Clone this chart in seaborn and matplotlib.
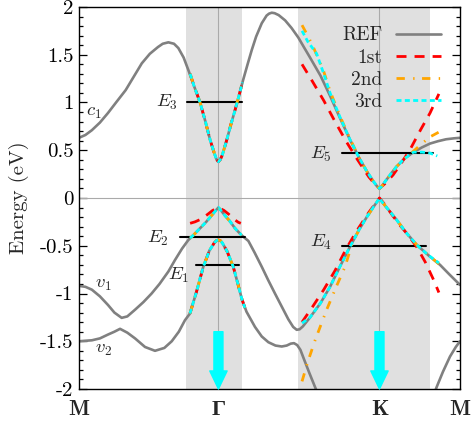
import numpy as np
import pandas as pd
import matplotlib
matplotlib.use('Agg')
import matplotlib.pyplot as plt
from matplotlib.ticker import MultipleLocator, FuncFormatter
import seaborn as sns

# k-path positions (M - Gamma - K - M)
k_ticks = [0.0, 0.866, 1.866, 2.366]
k_labels = ['M', 'Γ', 'K', 'M']

# reference bands
kx_c1 = [0.00, 0.04, 0.08, 0.13, 0.18, 0.23, 0.29, 0.34, 0.39, 0.44, 0.49, 0.52, 0.555, 0.59, 0.617, 0.65,
         0.679, 0.715, 0.752, 0.785, 0.814, 0.84, 0.855, 0.866, 0.877, 0.89, 0.918, 0.945, 0.969, 0.995, 1.02,
         1.047, 1.073, 1.10, 1.135, 1.165, 1.18, 1.197, 1.215, 1.24, 1.28, 1.32, 1.362, 1.40, 1.435, 1.50,
         1.559, 1.62, 1.683, 1.74, 1.787, 1.83, 1.852, 1.866, 1.88, 1.90, 1.94, 1.973, 2.02, 2.077, 2.13,
         2.18, 2.23, 2.28, 2.33, 2.366]
e_c1 = [0.63, 0.66, 0.71, 0.79, 0.89, 1.00, 1.13, 1.27, 1.41, 1.51, 1.58, 1.615, 1.63, 1.615, 1.57, 1.47,
        1.34, 1.17, 1.00, 0.80, 0.61, 0.47, 0.40, 0.38, 0.40, 0.45, 0.61, 0.78, 0.92, 1.08, 1.24,
        1.40, 1.55, 1.69, 1.83, 1.91, 1.93, 1.94, 1.935, 1.915, 1.86, 1.78, 1.68, 1.57, 1.47, 1.28,
        1.07, 0.84, 0.61, 0.42, 0.28, 0.17, 0.12, 0.10, 0.12, 0.17, 0.26, 0.33, 0.41, 0.48, 0.53,
        0.57, 0.595, 0.615, 0.625, 0.63]

kx_v1 = [0.00, 0.04, 0.08, 0.13, 0.18, 0.22, 0.265, 0.30, 0.348, 0.40, 0.451, 0.50, 0.555, 0.596, 0.64,
         0.679, 0.71, 0.75, 0.79, 0.83, 0.855, 0.866, 0.877, 0.90, 0.94, 0.97, 1.01, 1.052, 1.09, 1.135,
         1.175, 1.217, 1.26, 1.30, 1.33, 1.352, 1.37, 1.39, 1.435, 1.50, 1.559, 1.62, 1.683, 1.74, 1.787,
         1.83, 1.855, 1.866, 1.877, 1.92, 1.973, 2.03, 2.097, 2.17, 2.242, 2.30, 2.366]
e_v1 = [-0.92, -0.93, -0.96, -1.03, -1.12, -1.20, -1.255, -1.24, -1.17, -1.09, -1.00, -0.90, -0.77, -0.65, -0.53,
        -0.44, -0.39, -0.32, -0.25, -0.17, -0.12, -0.10, -0.12, -0.17, -0.25, -0.32, -0.39, -0.45, -0.57, -0.72,
        -0.86, -1.00, -1.14, -1.27, -1.35, -1.38, -1.375, -1.345, -1.25, -1.10, -0.93, -0.72, -0.51, -0.33, -0.20,
        -0.09, -0.03, 0.00, -0.03, -0.12, -0.23, -0.36, -0.49, -0.60, -0.70, -0.80, -0.91]

kx_v2 = [0.00, 0.08, 0.13, 0.18, 0.22, 0.255, 0.30, 0.348, 0.41, 0.472, 0.53, 0.576, 0.62, 0.658, 0.689,
         0.73, 0.772, 0.81, 0.84, 0.855, 0.866, 0.877, 0.89, 0.92, 0.958, 0.99, 1.01, 1.04, 1.093, 1.135,
         1.176, 1.22, 1.259, 1.29, 1.315, 1.335, 1.355, 1.375, 1.40, 1.43, 1.466, 1.50]
e_v2 = [-1.50, -1.49, -1.47, -1.43, -1.40, -1.37, -1.41, -1.47, -1.56, -1.60, -1.57, -1.50, -1.40, -1.28, -1.21,
        -0.98, -0.72, -0.55, -0.47, -0.445, -0.44, -0.445, -0.47, -0.56, -0.72, -0.92, -1.05, -1.19, -1.35, -1.45,
        -1.51, -1.545, -1.555, -1.545, -1.525, -1.52, -1.54, -1.59, -1.70, -1.83, -1.98, -2.12]

kx_v2_right = [2.19, 2.221, 2.26, 2.304, 2.34, 2.366]
e_v2_right = [-2.12, -1.98, -1.82, -1.66, -1.56, -1.50]

# expansions around Gamma (all three orders sit on the reference)
gam_c_x = [0.69, 0.715, 0.752, 0.785, 0.814, 0.84, 0.855, 0.866, 0.877, 0.89, 0.918, 0.945, 0.969, 0.995, 1.015]
gam_c_e = [1.30, 1.17, 1.00, 0.80, 0.61, 0.47, 0.40, 0.38, 0.40, 0.45, 0.61, 0.78, 0.92, 1.08, 1.21]
gam_v1_x = [0.69, 0.71, 0.75, 0.79, 0.83, 0.855, 0.866, 0.877, 0.90, 0.94, 0.97, 1.01]
gam_v1_e = [-0.42, -0.39, -0.32, -0.25, -0.17, -0.12, -0.10, -0.12, -0.17, -0.25, -0.32, -0.39]
gam_v1_1st_x = [0.69, 0.72, 0.76, 0.80, 0.83, 0.866, 0.90, 0.93, 0.96, 0.99, 1.005]
gam_v1_1st_e = [-0.265, -0.25, -0.22, -0.17, -0.13, -0.10, -0.13, -0.17, -0.22, -0.255, -0.265]
gam_v2_x = [0.689, 0.73, 0.772, 0.81, 0.84, 0.855, 0.866, 0.877, 0.89, 0.92, 0.958, 0.99, 1.01, 1.03]
gam_v2_e = [-1.21, -0.98, -0.72, -0.55, -0.47, -0.445, -0.44, -0.445, -0.47, -0.56, -0.72, -0.92, -1.05, -1.15]

# expansions around K
k_c_1st_x = [1.385, 1.45, 1.52, 1.59, 1.66, 1.73, 1.80, 1.84, 1.866, 1.90, 1.95, 2.00, 2.06, 2.12, 2.18, 2.235]
k_c_1st_e = [1.40, 1.22, 1.02, 0.80, 0.59, 0.40, 0.22, 0.14, 0.10, 0.15, 0.24, 0.36, 0.52, 0.71, 0.89, 1.09]
k_c_2nd_x = [1.385, 1.42, 1.455, 1.517, 1.559, 1.62, 1.683, 1.74, 1.787, 1.83, 1.852, 1.866, 1.88, 1.90, 1.94,
             1.973, 2.02, 2.077, 2.13, 2.18, 2.235]
k_c_2nd_e = [1.81, 1.70, 1.58, 1.34, 1.12, 0.86, 0.62, 0.42, 0.28, 0.17, 0.12, 0.10, 0.12, 0.17, 0.26,
             0.33, 0.41, 0.49, 0.57, 0.64, 0.69]
k_c_3rd_x = [1.385, 1.42, 1.476, 1.52, 1.559, 1.62, 1.683, 1.74, 1.787, 1.83, 1.852, 1.866, 1.88, 1.90, 1.94,
             1.973, 2.02, 2.077, 2.13, 2.18, 2.225]
k_c_3rd_e = [1.75, 1.64, 1.51, 1.30, 1.10, 0.85, 0.61, 0.42, 0.28, 0.17, 0.12, 0.10, 0.12, 0.17, 0.26,
             0.33, 0.41, 0.48, 0.48, 0.47, 0.44]

k_v_1st_x = [1.385, 1.45, 1.52, 1.59, 1.66, 1.73, 1.80, 1.866, 1.90, 1.95, 2.00, 2.05, 2.10, 2.15, 2.20, 2.235]
k_v_1st_e = [-1.30, -1.14, -0.96, -0.76, -0.53, -0.33, -0.15, 0.00, -0.07, -0.19, -0.30, -0.40, -0.52, -0.67, -0.85, -0.99]
k_v_2nd_x = [1.385, 1.42, 1.466, 1.538, 1.60, 1.652, 1.70, 1.74, 1.787, 1.83, 1.855, 1.866, 1.877, 1.92, 1.973,
             2.03, 2.097, 2.17, 2.235]
k_v_2nd_e = [-1.92, -1.72, -1.49, -1.17, -0.92, -0.72, -0.46, -0.33, -0.20, -0.09, -0.03, 0.00, -0.03, -0.12, -0.23,
             -0.36, -0.49, -0.60, -0.69]
k_v_3rd_x = [1.385, 1.435, 1.50, 1.559, 1.62, 1.683, 1.74, 1.787, 1.83, 1.855, 1.866, 1.877, 1.92, 1.973, 2.03,
             2.097, 2.17, 2.235]
k_v_3rd_e = [-1.31, -1.25, -1.10, -0.93, -0.72, -0.51, -0.33, -0.20, -0.09, -0.03, 0.00, -0.03, -0.12, -0.23, -0.36,
             -0.49, -0.60, -0.68]

# discrete levels
lvl_names = ['$E_1$', '$E_2$', '$E_3$', '$E_4$', '$E_5$']
lvl_e = [-0.70, -0.41, 1.00, -0.50, 0.47]
lvl_x0 = [0.727, 0.627, 0.669, 1.632, 1.632]
lvl_x1 = [0.996, 1.03, 1.010, 2.155, 2.200]
lvl_text_x = [0.683, 0.560, 0.615, 1.571, 1.571]
lvl_text_e = [-0.81, -0.42, 1.00, -0.47, 0.46]

sns.set_style('ticks')
plt.rcParams['font.family'] = ['cmr10', 'DejaVu Serif']
plt.rcParams['mathtext.fontset'] = 'cm'
plt.rcParams['axes.unicode_minus'] = False
plt.rcParams['axes.formatter.use_mathtext'] = False

fig = plt.figure(figsize=(4.73, 4.21), dpi=100)
ax = fig.add_axes([0.167, 0.076, 0.8055, 0.9074])

ax.axvspan(0.665, 1.012, color='#e0e0e0', lw=0, zorder=0)
ax.axvspan(1.36, 2.18, color='#e0e0e0', lw=0, zorder=0)
for kt in k_ticks[1:3]:
    ax.axvline(kt, color='#aaaaaa', lw=0.8, zorder=1)
ax.axhline(0, color='#aaaaaa', lw=0.8, zorder=1)

ref_kw = dict(color='#808080', lw=1.9, sort=False, estimator=None, ax=ax, zorder=2)
sns.lineplot(x=kx_c1, y=e_c1, label='REF', **ref_kw)
sns.lineplot(x=kx_v1, y=e_v1, **ref_kw)
sns.lineplot(x=kx_v2, y=e_v2, **ref_kw)
sns.lineplot(x=kx_v2_right, y=e_v2_right, **ref_kw)

# level lines
for x0, x1, e in zip(lvl_x0, lvl_x1, lvl_e):
    ax.plot([x0, x1], [e, e], color='black', lw=1.5, zorder=3)

styles = {
    '1st': dict(color='red', ls=(0, (3.6, 2.9))),
    '2nd': dict(color='orange', ls=(0, (3.0, 3.0, 0.5, 2.7))),
    '3rd': dict(color='cyan', ls=(0, (1.8, 1.2))),
}
series = {
    '1st': [(gam_c_x, gam_c_e), (gam_v1_1st_x, gam_v1_1st_e), (gam_v2_x, gam_v2_e),
            (k_c_1st_x, k_c_1st_e), (k_v_1st_x, k_v_1st_e)],
    '2nd': [(gam_c_x, gam_c_e), (gam_v1_x, gam_v1_e), (gam_v2_x, gam_v2_e),
            (k_c_2nd_x, k_c_2nd_e), (k_v_2nd_x, k_v_2nd_e)],
    '3rd': [(gam_c_x, gam_c_e), (gam_v1_x, gam_v1_e), (gam_v2_x, gam_v2_e),
            (k_c_3rd_x, k_c_3rd_e), (k_v_3rd_x, k_v_3rd_e)],
}
for z, (name, segs) in enumerate(series.items()):
    for i, (xs, es) in enumerate(segs):
        sns.lineplot(x=xs, y=es, ax=ax, sort=False, estimator=None, lw=2.0,
                     color=styles[name]['color'], linestyle=styles[name]['ls'],
                     label=name if i == 0 else None, zorder=4 + z)

for name, tx, te in zip(lvl_names, lvl_text_x, lvl_text_e):
    ax.text(tx, te, name, ha='right', va='center', fontsize=13.5)
ax.text(0.045, 0.90, '$c_1$', ha='left', va='center', fontsize=13.5)
ax.text(0.10, -0.90, '$v_1$', ha='left', va='center', fontsize=13.5)
ax.text(0.10, -1.58, '$v_2$', ha='left', va='center', fontsize=13.5)

# arrows marking the valleys
for kt in k_ticks[1:3]:
    ax.annotate('', xy=(kt, -2.0), xytext=(kt, -1.40),
                arrowprops=dict(color='cyan', width=6.5, headwidth=12.5, headlength=13, shrink=0),
                zorder=8)

ax.set_xlim(0, 2.366)
ax.set_ylim(-2, 2)
ax.set_xticks(k_ticks)
ax.set_xticklabels(k_labels, fontsize=16, fontweight='bold', family=['cmb10', 'Liberation Serif'])
ax.tick_params(axis='x', length=0, pad=8)
ax.yaxis.set_major_locator(MultipleLocator(0.5))
ax.yaxis.set_minor_locator(MultipleLocator(0.1))
ax.yaxis.set_major_formatter(FuncFormatter(lambda v, _: f'{v:g}'))
ax.tick_params(axis='y', which='both', direction='in', left=True, right=True, labelsize=15,
               width=0.9, colors='black', pad=4)
ax.tick_params(axis='y', which='major', length=6)
ax.tick_params(axis='y', which='minor', length=3)
for s in ax.spines.values():
    s.set_color('black')
    s.set_linewidth(1.0)
ax.set_ylabel('Energy (eV)', fontsize=15, labelpad=8)

ax.legend(loc='upper right', frameon=False, markerfirst=False, fontsize=14,
          handlelength=2.3, handletextpad=0.7, labelspacing=0.22, borderaxespad=0.6)

fig.savefig('out.png', dpi=100)
